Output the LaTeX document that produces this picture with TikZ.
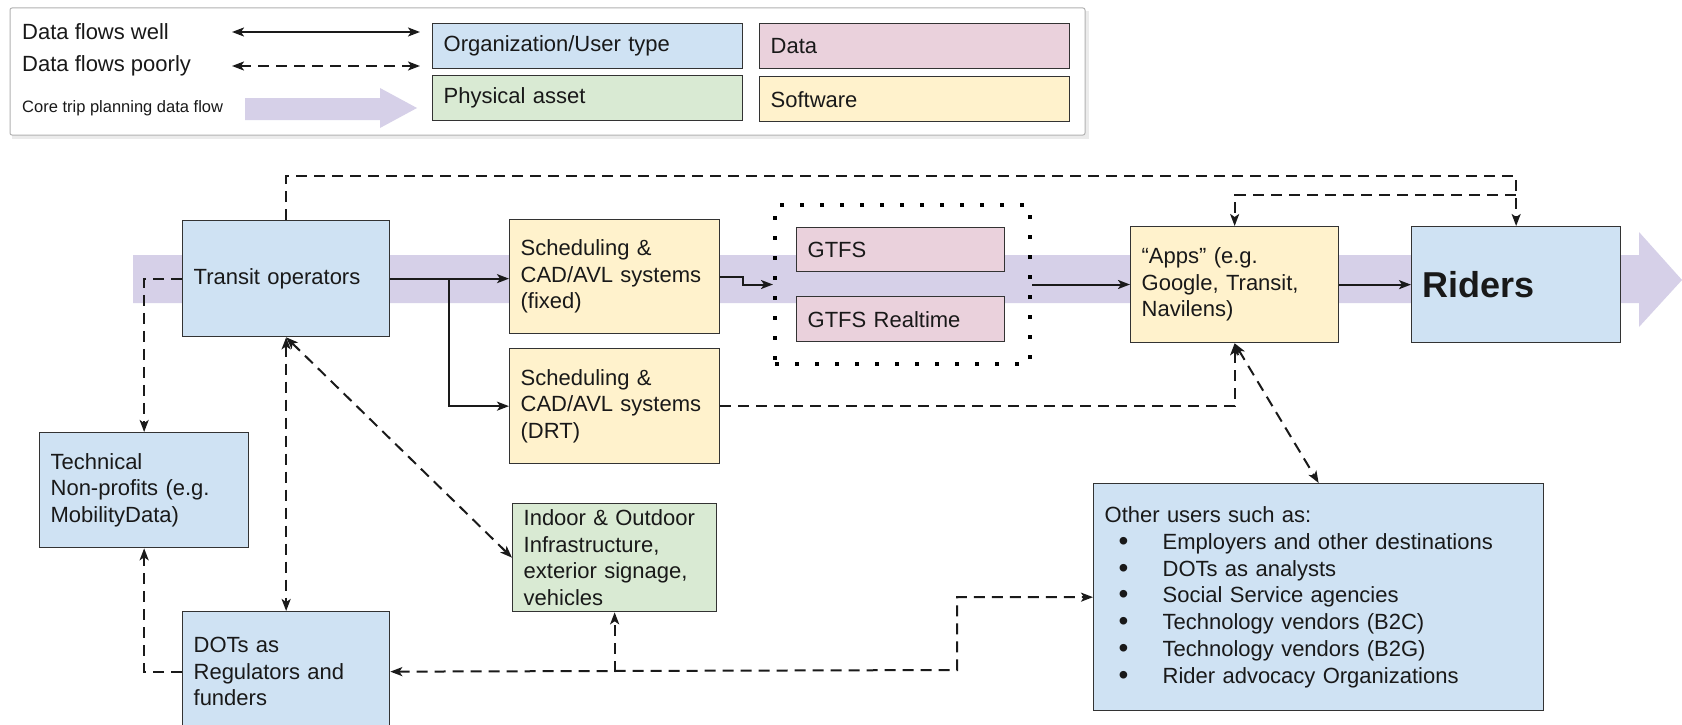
\documentclass[tikz,border=0pt]{standalone}
\usepackage{fontspec}
\setmainfont{Liberation Sans}
\usetikzlibrary{arrows.meta}
\definecolor{orgc}{HTML}{CFE2F3}
\definecolor{datac}{HTML}{EAD1DC}
\definecolor{physc}{HTML}{D9EAD3}
\definecolor{softc}{HTML}{FFF2CC}
\definecolor{bandc}{HTML}{D6D0E8}
\definecolor{linec}{HTML}{1A1A1A}
\newcommand{\blt}{\hspace*{14pt}\makebox[44pt][l]{\raisebox{-1pt}{\fontsize{28}{27}\selectfont\textbullet}}}
\begin{document}
\begin{tikzpicture}[x=1pt,y=-1pt,
  >={Stealth[length=12pt,width=9pt,inset=3pt]},
  box/.style={draw=black!80, line width=1.3pt, inner xsep=11pt, inner ysep=0pt,
    align=left, anchor=north west, font=\fontsize{22}{26.5}\selectfont, text=black!90},
  good/.style={draw=linec, line width=2pt},
  poor/.style={draw=linec, line width=2pt, dash pattern=on 11pt off 7pt},
  lbl/.style={anchor=west, inner sep=0pt, text=black!90}]
\useasboundingbox (0,0) rectangle (1682,725);
\fill[white] (0,0) rectangle (1682,725);

% ---------- legend ----------
\fill[black!8] (12,11) rectangle (1089,139);
\draw[draw=black!30, fill=white, line width=1pt, rounded corners=2pt] (10,8) rectangle (1085,135);
\node[lbl, font=\fontsize{22}{26}\selectfont] (lwell) at (22,32) {Data flows well};
\node[lbl, font=\fontsize{22}{26}\selectfont] (lpoor) at (22,66) {Data flows poorly};
\node[lbl, font=\fontsize{16.5}{20}\selectfont] (lcore) at (22,108) {Core trip planning data flow};
\coordinate (la1) at (232,32);
\coordinate (la2) at (420,32);
\coordinate (lb1) at (232,66);
\coordinate (lb2) at (420,66);
\draw[good,<->] (la1) -- (la2);
\draw[poor,<->] (lb1) -- (lb2);
\fill[bandc] (245,98) -- (380,98) -- (380,88) -- (417,108) -- (380,128) -- (380,120) -- (245,120) -- cycle;
\node[box, fill=orgc, minimum width=310pt, minimum height=45pt, text width=288pt] (lorg) at (432,23) {Organization/User type};
\node[box, fill=datac, minimum width=310pt, minimum height=45pt, text width=288pt] (ldata) at (759,23) {Data};
\node[box, fill=physc, minimum width=310pt, minimum height=45pt, text width=288pt] (lphys) at (432,75) {Physical asset};
\node[box, fill=softc, minimum width=310pt, minimum height=45pt, text width=288pt] (lsoft) at (759,76) {Software};

% ---------- core band ----------
\fill[bandc] (133,255) -- (1639,255) -- (1639,232) -- (1682,280) -- (1639,327) -- (1639,303) -- (133,303) -- cycle;

% ---------- nodes ----------
\node[box, fill=orgc, minimum width=207pt, minimum height=116pt, text width=185pt] (transit) at (182,220) {Transit operators};
\node[box, fill=softc, minimum width=210pt, minimum height=114pt, text width=188pt] (schedF) at (509,219) {Scheduling \&\\CAD/AVL systems\\(fixed)};
\node[box, fill=softc, minimum width=210pt, minimum height=115pt, text width=188pt] (schedD) at (509,348) {Scheduling \&\\CAD/AVL systems\\(DRT)};
\node[draw=black, line width=4pt, dash pattern=on 4pt off 16pt, anchor=north west, inner sep=0pt,
      minimum width=255pt, minimum height=159pt] (group) at (773,203) {};
\node[box, fill=datac, minimum width=208pt, minimum height=44pt, text width=186pt] (gtfs) at (796,227) {GTFS};
\node[box, fill=datac, minimum width=208pt, minimum height=45pt, text width=186pt] (gtfsrt) at (796,296) {GTFS Realtime};
\node[box, fill=softc, minimum width=208pt, minimum height=116pt, text width=186pt] (apps) at (1130,226) {“Apps” (e.g.\\Google, Transit,\\Navilens)};
\node[box, fill=orgc, minimum width=209pt, minimum height=116pt, text width=187pt, font=\fontsize{36}{40}\selectfont\bfseries] (riders) at (1411,226) {Riders};
\node[box, fill=orgc, minimum width=209pt, minimum height=115pt, text width=187pt] (tech) at (39,432) {Technical\\Non-profits (e.g.\\MobilityData)};
\node[box, fill=physc, minimum width=204pt, minimum height=108pt, text width=182pt] (indoor) at (512,503) {Indoor \& Outdoor\\Infrastructure,\\exterior signage,\\vehicles};
\node[box, fill=orgc, minimum width=207pt, minimum height=120pt, text width=185pt] (dots) at (182,611) {DOTs as\\Regulators and\\funders};
\node[box, fill=orgc, minimum width=450pt, minimum height=227pt, text width=428pt,
      font=\fontsize{22}{26.8}\selectfont] (other) at (1093,483) {Other users such as:\\
\blt Employers and other destinations\\
\blt DOTs as analysts\\
\blt Social Service agencies\\
\blt Technology vendors (B2C)\\
\blt Technology vendors (B2G)\\
\blt Rider advocacy Organizations};

% ---------- solid connectors ----------
\coordinate (br) at (449,278);
\draw[good,->] (transit.east) -- (transit.east -| schedF.west);
\draw[good,->] (br) |- (schedD.west);
\draw[good,->] (schedF.east) -- ++(23,0) |- (group.west);
\draw[good,->] (group.east) -- (group.east -| apps.west);
\draw[good,->] (apps.east) -- (riders.west);

% ---------- dashed connectors ----------
\coordinate (aj) at (1515.5,195);
\draw[poor,->] (transit.north) -- ++(0,-44) -| (riders.north);
\draw[poor,->] (aj) -| (apps.north);
\draw[poor,->] (transit.west) -| (tech.north);
\draw[poor,<->] (transit.south) -- (dots.north);
\draw[poor,<->] (transit.south) -- (indoor.west);
\draw[poor,->] (schedD.east) -| (apps.south);
\draw[poor,<->] (apps.south) -- (other.north);
\draw[poor,->] (dots.west) -| (tech.south);
\coordinate (dj) at (957,670);
\draw[poor,<->] (dots.east) -- (dj) |- (other.west);
\draw[poor,->] (indoor.south |- dots.east) -- (indoor.south);
\end{tikzpicture}
\end{document}
